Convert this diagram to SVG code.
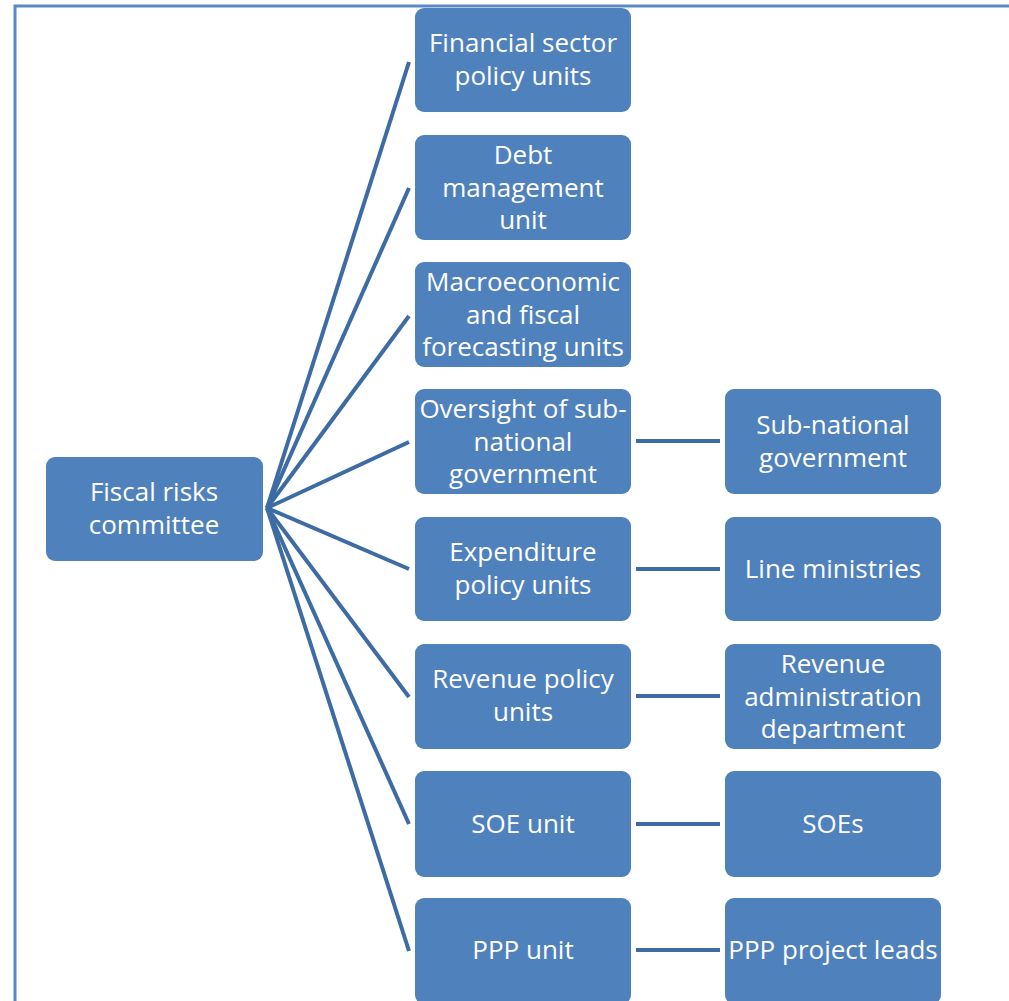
<svg xmlns="http://www.w3.org/2000/svg" width="1009" height="1001" viewBox="0 0 1009 1001">
  <style>
    .box { fill: #4f81bd; }
    .lbl { fill: #ffffff; font-family: "Open Sans", "Noto Sans", "Liberation Sans", sans-serif; font-size: 26px; text-anchor: middle; }
    .link { stroke: #3d6ba3; stroke-width: 4; fill: none; stroke-linecap: butt; }
  </style>
  <rect x="0" y="0" width="1009" height="1001" fill="#ffffff"/>
  <!-- frame -->
  <path d="M15,1001 V6 H1009" fill="none" stroke="#5a8ac6" stroke-width="3"/>

  <g id="connectors">
    <line class="link" x1="267" y1="508" x2="409" y2="62"/>
    <line class="link" x1="267" y1="508" x2="409" y2="188"/>
    <line class="link" x1="267" y1="508" x2="409" y2="316"/>
    <line class="link" x1="267" y1="508" x2="409" y2="442"/>
    <line class="link" x1="267" y1="508" x2="409" y2="569"/>
    <line class="link" x1="267" y1="508" x2="409" y2="697"/>
    <line class="link" x1="267" y1="508" x2="409" y2="824"/>
    <line class="link" x1="267" y1="508" x2="409" y2="951"/>
    <line class="link" x1="636" y1="441" x2="720" y2="441"/>
    <line class="link" x1="636" y1="569" x2="720" y2="569"/>
    <line class="link" x1="636" y1="696" x2="720" y2="696"/>
    <line class="link" x1="636" y1="824" x2="720" y2="824"/>
    <line class="link" x1="636" y1="950" x2="720" y2="950"/>
  </g>

  <g id="fiscal-risks-committee">
    <rect class="box" x="46" y="457" width="217" height="104" rx="9"/>
    <text class="lbl" x="154" y="501">Fiscal risks</text>
    <text class="lbl" x="154" y="534">committee</text>
  </g>

  <g id="financial-sector">
    <rect class="box" x="415" y="8" width="216" height="104" rx="9"/>
    <text class="lbl" x="523" y="52">Financial sector</text>
    <text class="lbl" x="523" y="85">policy units</text>
  </g>
  <g id="debt-management">
    <rect class="box" x="415" y="135" width="216" height="105" rx="9"/>
    <text class="lbl" x="523" y="164">Debt</text>
    <text class="lbl" x="523" y="197">management</text>
    <text class="lbl" x="523" y="229">unit</text>
  </g>
  <g id="macro-fiscal">
    <rect class="box" x="415" y="262" width="216" height="105" rx="9"/>
    <text class="lbl" x="523" y="291">Macroeconomic</text>
    <text class="lbl" x="523" y="324">and fiscal</text>
    <text class="lbl" x="523" y="356">forecasting units</text>
  </g>
  <g id="subnational-oversight">
    <rect class="box" x="415" y="389" width="216" height="105" rx="9"/>
    <text class="lbl" x="523" y="418">Oversight of sub-</text>
    <text class="lbl" x="523" y="451">national</text>
    <text class="lbl" x="523" y="483">government</text>
  </g>
  <g id="expenditure-policy">
    <rect class="box" x="415" y="517" width="216" height="104" rx="9"/>
    <text class="lbl" x="523" y="561">Expenditure</text>
    <text class="lbl" x="523" y="594">policy units</text>
  </g>
  <g id="revenue-policy">
    <rect class="box" x="415" y="644" width="216" height="105" rx="9"/>
    <text class="lbl" x="523" y="688">Revenue policy</text>
    <text class="lbl" x="523" y="721">units</text>
  </g>
  <g id="soe-unit">
    <rect class="box" x="415" y="771" width="216" height="106" rx="9"/>
    <text class="lbl" x="523" y="833">SOE unit</text>
  </g>
  <g id="ppp-unit">
    <rect class="box" x="415" y="898" width="216" height="106" rx="9"/>
    <text class="lbl" x="523" y="959">PPP unit</text>
  </g>

  <g id="subnational-government">
    <rect class="box" x="725" y="389" width="216" height="105" rx="9"/>
    <text class="lbl" x="833" y="434">Sub-national</text>
    <text class="lbl" x="833" y="467">government</text>
  </g>
  <g id="line-ministries">
    <rect class="box" x="725" y="517" width="216" height="104" rx="9"/>
    <text class="lbl" x="833" y="578">Line ministries</text>
  </g>
  <g id="revenue-administration">
    <rect class="box" x="725" y="644" width="216" height="105" rx="9"/>
    <text class="lbl" x="833" y="673">Revenue</text>
    <text class="lbl" x="833" y="706">administration</text>
    <text class="lbl" x="833" y="738">department</text>
  </g>
  <g id="soes">
    <rect class="box" x="725" y="771" width="216" height="106" rx="9"/>
    <text class="lbl" x="833" y="833">SOEs</text>
  </g>
  <g id="ppp-project-leads">
    <rect class="box" x="725" y="898" width="216" height="106" rx="9"/>
    <text class="lbl" x="833" y="959">PPP project leads</text>
  </g>
</svg>
